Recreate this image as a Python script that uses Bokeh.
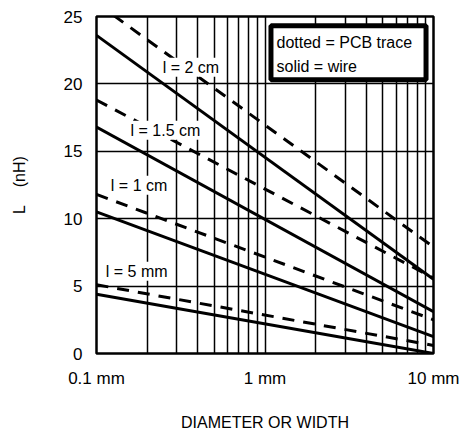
from bokeh.plotting import figure
from bokeh.models import Range1d, FixedTicker, Label, BoxAnnotation
from bokeh.embed import file_html
from bokeh.resources import INLINE

# ---- data ----
diam = [0.1, 10]                      # mm, log axis ends
wire_5mm = [4.4, 0.0]
wire_1cm = [10.5, 1.25]
wire_15cm = [16.8, 3.1]
wire_2cm = [23.6, 5.5]
pcb_5mm = [5.1, 0.6]
pcb_1cm = [11.8, 2.5]
pcb_15cm = [18.8, 5.6]
pcb_2cm = [26.0, 7.9]

x_major = [0.1, 1, 10]
x_labels = ["0.1 mm", "1 mm", "10 mm"]
x_grid = [0.1, 0.2, 0.3, 0.4, 0.5, 0.6, 0.7, 0.8, 0.9,
          1, 2, 3, 4, 5, 6, 7, 8, 9, 10]
y_ticks = [0, 5, 10, 15, 20, 25]

curve_labels = ["l = 2 cm", "l = 1.5 cm", "l = 1 cm", "l = 5 mm"]
legend_lines = ["dotted = PCB trace", "solid = wire"]

FONT = "Liberation Sans"
NB = "\u00a0"

p = figure(x_axis_type="log", x_range=Range1d(0.1, 10), y_range=Range1d(0, 25),
           frame_width=337, frame_height=337,
           min_border_left=96, min_border_right=26, min_border_top=16, min_border_bottom=10,
           output_backend="svg", toolbar_location=None,
           background_fill_color="white", border_fill_color="white")

p.outline_line_color = "black"
p.outline_line_width = 2.5

# axes
p.xaxis.ticker = FixedTicker(ticks=x_major)
p.xaxis.major_label_overrides = {t: l for t, l in zip(x_major, x_labels)}
p.yaxis.ticker = FixedTicker(ticks=y_ticks)
for ax in (p.xaxis, p.yaxis):
    ax.axis_line_color = None
    ax.major_tick_line_color = None
    ax.minor_tick_line_color = None
    ax.major_tick_out = 0
    ax.major_tick_in = 0
    ax.major_label_text_font = FONT
    ax.major_label_text_font_size = "17px"
    ax.major_label_text_color = "black"
    ax.axis_label_text_font = FONT
    ax.axis_label_text_font_style = "normal"
    ax.axis_label_text_color = "black"

p.xaxis.axis_label = "DIAMETER OR WIDTH"
p.xaxis.axis_label_text_font_size = "16px"
p.xaxis.major_label_standoff = 15
p.xaxis.axis_label_standoff = 23
p.yaxis.axis_label = "L" + NB * 4 + "(nH)"
p.yaxis.axis_label_text_font_size = "16px"
p.yaxis.major_label_standoff = 14
p.yaxis.axis_label_standoff = 33

# grid
p.xgrid.ticker = FixedTicker(ticks=x_grid)
p.ygrid.ticker = FixedTicker(ticks=y_ticks)
for g in (p.xgrid, p.ygrid):
    g.grid_line_color = "black"
    g.grid_line_width = 1.5
    g.grid_line_alpha = 1.0

# curves
for vals in (wire_5mm, wire_1cm, wire_15cm, wire_2cm):
    p.line(diam, vals, line_color="black", line_width=3)
for vals in (pcb_5mm, pcb_1cm, pcb_15cm, pcb_2cm):
    p.line(diam, vals, line_color="black", line_width=3, line_dash="12 9")

# curve labels (white background)
label_pos = [(0.2435, 21.24), (0.157, 16.57), (0.12, 12.49), (0.112, 6.1)]
for txt, (lx, ly) in zip(curve_labels, label_pos):
    p.add_layout(Label(x=lx, y=ly, text=txt, text_baseline="middle", text_align="left",
                       text_font=FONT, text_font_size="16px", text_color="black",
                       background_fill_color="white", padding=1))

# legend box
p.add_layout(BoxAnnotation(left=1.085, right=9.03, top=24.32, bottom=20.31,
                           fill_color="white", fill_alpha=1.0,
                           line_color="black", line_width=5, line_alpha=1.0))
for txt, ly in zip(legend_lines, [23.09, 21.31]):
    p.add_layout(Label(x=1.17, y=ly, text=txt, text_baseline="middle", text_align="left",
                       text_font=FONT, text_font_size="16px", text_color="black"))

open("out.html", "w").write(file_html(p, INLINE))
